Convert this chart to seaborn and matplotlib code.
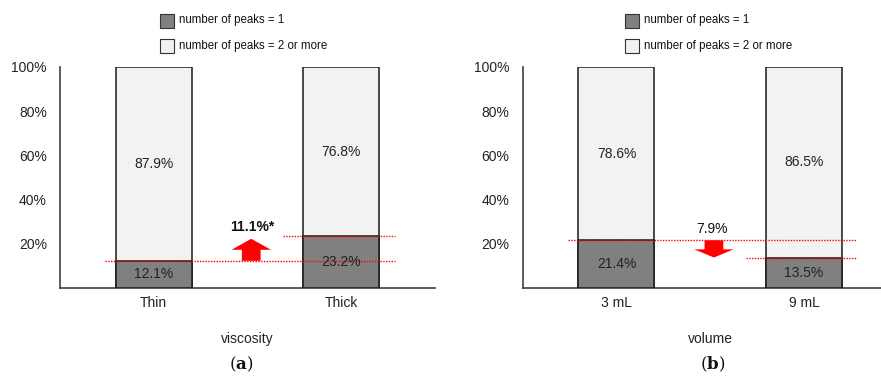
import matplotlib
matplotlib.use("Agg")
import matplotlib.pyplot as plt
from matplotlib.patches import Rectangle, FancyArrow
import seaborn as sns
import pandas as pd

# ---- data ----
visc_cats = ["Thin", "Thick"]
visc_one = [12.1, 23.2]
visc_more = [87.9, 76.8]
visc_diff = "11.1%*"

vol_cats = ["3 mL", "9 mL"]
vol_one = [21.4, 13.5]
vol_more = [78.6, 86.5]
vol_diff = "7.9%"

yticks = [20, 40, 60, 80, 100]
legend_labels = ["number of peaks = 1", "number of peaks = 2 or more"]

DARK = "#808080"
LIGHT = "#f2f2f2"
EDGE = "#1a1a1a"

sns.set_theme(style="white")
plt.rcParams["font.family"] = ["Liberation Sans", "DejaVu Sans"]
plt.rcParams["mathtext.fontset"] = "dejavuserif"

W, H = 881, 381
fig = plt.figure(figsize=(W / 100, H / 100), dpi=100)

def px_ax(left, top, right, bottom):
    return fig.add_axes([left / W, 1 - bottom / H, (right - left) / W, (bottom - top) / H])

ax_a = px_ax(60, 67, 435, 287.5)
ax_b = px_ax(522.7, 67, 897.7, 287.5)

def panel(ax, cats, one, more, xlabel, tag, tag_x, diff_text, diff_bold, up):
    df = pd.DataFrame({"cat": cats, "one": one, "more": more})
    df["total"] = df["one"] + df["more"]
    sns.barplot(data=df, x="cat", y="total", color=LIGHT, saturation=1,
                width=0.405, edgecolor=EDGE, linewidth=1.1, ax=ax, zorder=2)
    sns.barplot(data=df, x="cat", y="one", color=DARK, saturation=1,
                width=0.405, edgecolor=EDGE, linewidth=1.1, ax=ax, zorder=3)
    ax.set_xlim(-0.5, 1.5)
    ax.set_ylim(0, 100)
    ax.set_yticks(yticks)
    ax.set_yticklabels([f"{t}%" for t in yticks], fontsize=10, color="#222222")
    ax.tick_params(axis="y", length=0, pad=9.5)
    ax.tick_params(axis="x", length=0, pad=6, labelsize=10, labelcolor="#222222")
    ax.set_xlabel(xlabel, fontsize=10, color="#222222", labelpad=16)
    ax.set_ylabel("")
    for s in ["top", "right"]:
        ax.spines[s].set_visible(False)
    for s in ["left", "bottom"]:
        ax.spines[s].set_color("#404040")
        ax.spines[s].set_linewidth(1.2)
    # value labels
    for i, (o, m) in enumerate(zip(one, more)):
        ax.text(i, o / 2, f"{o}%", ha="center", va="center", fontsize=10, color="#222222", zorder=5)
        ax.text(i, o + m / 2, f"{m}%", ha="center", va="center", fontsize=10, color="#222222", zorder=5)
    # red reference lines
    ax.plot([-0.26, 1.285], [one[0], one[0]], ls=(0, (1, 1)), color="red", lw=1.0, zorder=4)
    ax.plot([0.69, 1.285], [one[1], one[1]], ls=(0, (1, 1)), color="red", lw=1.0, zorder=4)
    # arrow
    xc = 0.52
    if up:
        ax.add_patch(FancyArrow(xc, one[0], 0, 10, width=0.1, head_width=0.21,
                                head_length=5, length_includes_head=True,
                                color="red", lw=0, zorder=4))
        ax.text(xc + 0.005, 27.5, diff_text, ha="center", va="center", fontsize=10,
                fontweight="bold" if diff_bold else "normal", color="#111111")
    else:
        ax.add_patch(FancyArrow(xc, one[0], 0, -7.8, width=0.1, head_width=0.21,
                                head_length=3.7, length_includes_head=True,
                                color="red", lw=0, zorder=4))
        ax.text(xc - 0.01, 26.5, diff_text, ha="center", va="center", fontsize=10,
                fontweight="bold" if diff_bold else "normal", color="#111111")
    fig.text(tag_x / W, 1 - 364 / H, tag, ha="center", va="center", fontsize=12, color="#111111")

panel(ax_a, visc_cats, visc_one, visc_more, "viscosity", r"$(\mathbf{a})$", 241, visc_diff, True, True)
panel(ax_b, vol_cats, vol_one, vol_more, "volume", r"$(\mathbf{b})$", 713, vol_diff, False, False)

# legends
def legend(x0):
    for k, (lab, col) in enumerate(zip(legend_labels, [DARK, LIGHT])):
        ytop = 13.5 + k * 25
        fig.add_artist(Rectangle((x0 / W, 1 - (ytop + 14) / H), 14 / W, 14 / H,
                                 transform=fig.transFigure, facecolor=col,
                                 edgecolor="#333333", lw=0.8))
        fig.text((x0 + 19) / W, 1 - (ytop + 7) / H, lab, ha="left", va="center",
                 fontsize=8.3, color="#111111")

legend(160)
legend(625)

fig.savefig("out.png", dpi=100)
